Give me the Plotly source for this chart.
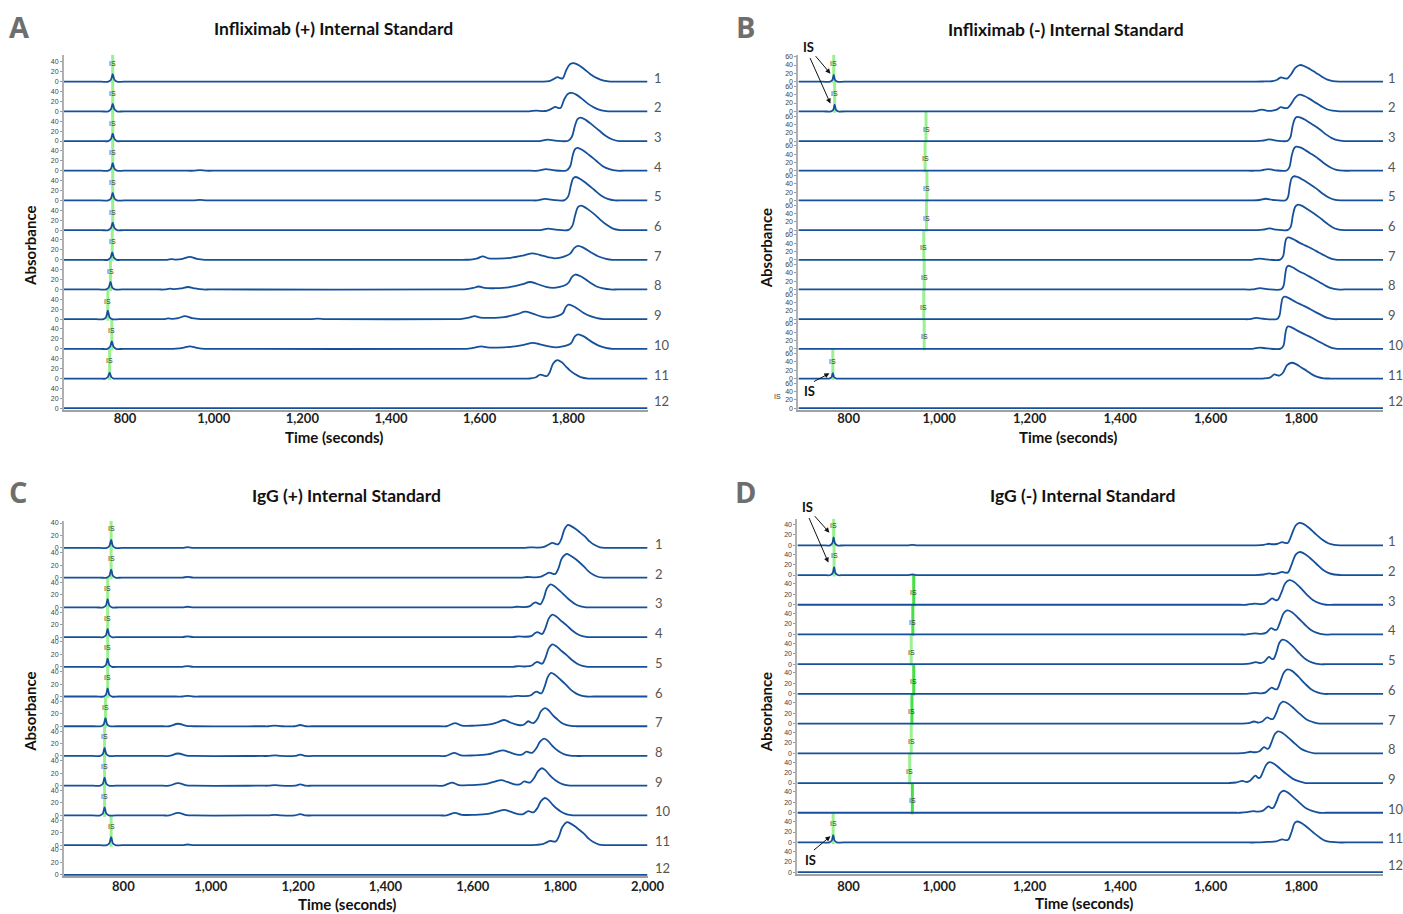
import plotly.graph_objects as go

# ------------------------------------------------------------------
# DATA  (time in seconds, absorbance)
# ------------------------------------------------------------------
ROW_NAMES = ["1", "2", "3", "4", "5", "6", "7", "8", "9", "10", "11", "12"]

# Panel A : Infliximab (+) Internal Standard
A_TRACES = [
    [(662,0),(745,0),(762,0),(768,4),(772,15),(776,4),(782,0),(798,0),(1722,0),(1740,0),(1757,1),(1767,5),(1776,9),(1783,6.5),(1788,7),(1796,24),(1804,35),(1813,37),(1822,34),(1835,26),(1850,15),(1865,7),(1880,2),(1895,0),(1912,0),(1979,0)],
    [(662,0),(745,0),(762,0),(768,4),(772,15),(776,4),(782,0),(798,0),(1695,0),(1712,0),(1728,1.5),(1742,0.5),(1753,1.5),(1762,5),(1771,9),(1778,6.5),(1783,7),(1791,24),(1799,35),(1808,37),(1817,34),(1830,26),(1845,15),(1860,7),(1875,2),(1890,0),(1907,0),(1979,0)],
    [(662,0),(745,0),(762,0),(768,4),(772,15),(776,4),(782,0),(798,0),(1718,0),(1735,0),(1754,3),(1770,1),(1800,0.5),(1808,8),(1815,30),(1821,44),(1828,47),(1840,42),(1855,32),(1870,21),(1885,10),(1900,3),(1915,0),(1932,0),(1979,0)],
    [(662,0),(745,0),(762,0),(768,4),(772,15),(776,4),(782,0),(798,0),(940,0),(955,0),(969,1),(983,0),(998,0),(1715,0),(1732,0),(1750,3),(1766,1),(1796,0.5),(1804,8),(1810,30),(1815,43),(1821,46),(1833,41),(1848,31),(1863,20),(1878,9),(1893,3),(1910,0),(1927,0),(1979,0)],
    [(662,0),(745,0),(762,0),(768,4),(772,15),(776,4),(782,0),(798,0),(940,0),(955,0),(969,1),(983,0),(998,0),(1713,0),(1730,0),(1748,3),(1764,1),(1792,0.5),(1800,8),(1806,30),(1811,44),(1817,47),(1829,42),(1844,32),(1859,21),(1874,10),(1889,3),(1905,0),(1922,0),(1979,0)],
    [(662,0),(745,0),(762,0),(768,4),(772,15),(776,4),(782,0),(798,0),(1720,0),(1737,0),(1755,3),(1771,1),(1801,0.5),(1809,8),(1816,31),(1822,46),(1829,49),(1841,44),(1856,34),(1871,22),(1886,11),(1901,3),(1917,0),(1934,0),(1979,0)],
    [(662,0),(744,0),(761,0),(767,4),(771,15),(775,4),(781,0),(797,0),(880,0),(895,0),(905,1.5),(915,0.5),(930,2),(946,6),(962,2),(980,0),(996,0),(1562,0),(1580,0.5),(1595,3),(1607,7),(1620,3),(1640,2.5),(1670,4),(1700,9),(1719,13),(1735,10),(1755,5),(1769,3),(1785,5),(1798,9),(1805,13),(1814,24),(1822,28),(1835,24),(1855,13),(1870,6),(1885,2),(1900,0),(1917,0),(1979,0)],
    [(662,0),(740,0),(757,0),(763,4),(767,15),(771,4),(777,0),(793,0),(875,0),(890,0),(901,1.5),(911,0.5),(926,2),(942,5),(958,2),(976,0),(992,0),(1552,0),(1570,0.5),(1586,3),(1598,6),(1611,3),(1635,2.5),(1665,4),(1695,10),(1714,15),(1730,11),(1750,5),(1765,3),(1781,5),(1794,9),(1801,14),(1809,26),(1816,30),(1829,26),(1849,14),(1864,6),(1879,2),(1895,0),(1912,0),(1979,0)],
    [(662,0),(734,0),(751,0),(757,4),(761,17),(765,4),(771,0),(787,0),(871,0),(886,0),(897,1.5),(907,0.5),(920,2),(935,6),(951,2),(970,0),(986,0),(1205,0),(1220,0),(1235,1),(1250,0),(1265,0),(1542,0),(1560,0.5),(1576,3),(1589,6),(1602,3),(1625,2.5),(1655,4),(1685,10),(1703,15),(1720,11),(1740,5),(1756,3),(1771,5),(1781,8),(1788,12),(1795,25),(1801,29),(1814,25),(1834,13),(1850,6),(1865,2),(1880,0),(1897,0),(1979,0)],
    [(662,0),(743,0),(760,0),(766,4),(770,15),(774,4),(780,0),(796,0),(900,0),(915,0.5),(930,2),(946,5),(962,2),(980,0),(996,0),(1557,0),(1575,0.5),(1591,3),(1604,5),(1617,3),(1640,2.5),(1670,4),(1700,8),(1720,12),(1736,9),(1756,5),(1772,3),(1788,5),(1800,8),(1807,12),(1815,25),(1822,29),(1835,25),(1855,13),(1870,6),(1885,2),(1900,0),(1917,0),(1979,0)],
    [(662,0),(739,0),(756,0),(761,3),(765,12),(769,3),(774,0),(790,0),(1695,0),(1712,0),(1726,2),(1737,8),(1745,6),(1752,5),(1758,12),(1766,30),(1775,37),(1785,33),(1795,24),(1803,17),(1815,9),(1828,3),(1845,0),(1862,0),(1979,0)],
    [(662,0),(1979,0)],
]
A_IS_TIME = [772, 772, 772, 772, 772, 772, 771, 767, 761, 770, 765]

# Panel B : Infliximab (-) Internal Standard
B_TRACES = [
    [(689,0),(742,0),(759,0),(764,4),(767,16),(770,4),(775,0),(791,0),(1683,0),(1700,0),(1720,0.5),(1735,1),(1746,4),(1755,10),(1763,8),(1770,8),(1778,18),(1787,33),(1797,40),(1808,37),(1820,30),(1833,21),(1846,12),(1858,5),(1870,1.5),(1885,0),(1902,0),(1981,0)],
    [(689,0),(744,0),(761,0),(766,4),(769,16),(772,4),(777,0),(793,0),(1678,0),(1695,0),(1713,4),(1728,1),(1737,1.5),(1746,4),(1755,10),(1763,8),(1770,8),(1778,18),(1787,33),(1796,40),(1807,37),(1819,30),(1832,21),(1845,12),(1857,5),(1869,1.5),(1884,0),(1901,0),(1981,0)],
    [(689,0),(1683,0),(1700,0),(1715,1),(1729,4),(1745,1),(1770,0.5),(1776,8),(1781,35),(1786,53),(1791,58),(1800,56),(1812,49),(1825,40),(1840,29),(1855,16),(1868,7),(1880,2),(1895,0),(1912,0),(1981,0)],
    [(689,0),(1681,0),(1698,0),(1713,1),(1728,4),(1743,1),(1768,0.5),(1774,8),(1779,35),(1784,53),(1789,58),(1798,56),(1810,49),(1823,40),(1838,29),(1853,16),(1866,7),(1878,2),(1893,0),(1910,0),(1981,0)],
    [(689,0),(1676,0),(1693,0),(1708,1),(1722,4),(1738,1),(1766,0.5),(1771,8),(1775,35),(1779,53),(1784,58),(1793,56),(1805,49),(1818,40),(1833,29),(1848,16),(1861,7),(1873,2),(1888,0),(1905,0),(1981,0)],
    [(689,0),(1684,0),(1701,0),(1716,1),(1730,4),(1746,1),(1771,0.5),(1777,8),(1782,37),(1787,56),(1792,61),(1801,59),(1813,51),(1826,42),(1841,30),(1856,17),(1869,7),(1881,2),(1896,0),(1913,0),(1981,0)],
    [(689,0),(1673,0),(1690,0),(1707,3),(1722,1),(1754,0.5),(1760,8),(1764,35),(1767,50),(1771,54),(1782,50),(1795,42),(1810,34),(1825,26),(1840,17),(1854,9),(1866,3),(1880,0),(1897,0),(1981,0)],
    [(689,0),(1675,0),(1692,0),(1709,3),(1724,1),(1756,0.5),(1761,8),(1765,37),(1768,53),(1771,57),(1782,53),(1795,44),(1810,36),(1825,27),(1840,18),(1854,9),(1866,3),(1880,0),(1897,0),(1981,0)],
    [(689,0),(1667,0),(1684,0),(1701,3),(1716,1),(1747,0.5),(1752,8),(1756,35),(1759,50),(1763,54),(1774,50),(1787,42),(1802,34),(1817,26),(1832,17),(1846,9),(1858,3),(1872,0),(1889,0),(1981,0)],
    [(689,0),(1675,0),(1692,0),(1709,3),(1724,1),(1755,0.5),(1761,8),(1765,35),(1768,50),(1771,54),(1782,50),(1795,42),(1810,34),(1825,26),(1840,17),(1854,9),(1866,3),(1880,0),(1897,0),(1981,0)],
    [(689,0),(740,0),(757,0),(762,3),(765,13),(768,3),(773,0),(789,0),(1698,0),(1715,0),(1731,2),(1741,10),(1747,8),(1752,7),(1760,14),(1769,32),(1779,38),(1790,34),(1801,26),(1812,19),(1824,10),(1836,4),(1850,0.5),(1865,0),(1882,0),(1981,0)],
    [(689,0),(1981,0)],
]
B_IS_TIME = [767, 769, 971, 969, 973, 972, 966, 967, 966, 967, 765]

# Panel C : IgG (+) Internal Standard
C_TRACES = [
    [(664,0),(745,0),(762,0),(768,3),(772,13),(776,3),(782,0),(798,0),(920,0),(935,0),(947,1.2),(960,0),(975,0),(1700,0),(1717,0),(1731,1),(1747,0.5),(1763,1.5),(1773,5),(1782,8),(1789,6.5),(1796,6),(1803,15),(1810,30),(1818,37),(1825,35),(1834,31),(1845,25),(1857,18),(1868,10),(1878,5),(1891,1),(1903,0),(1920,0),(2000,0)],
    [(664,0),(745,0),(762,0),(768,3),(772,13),(776,3),(782,0),(798,0),(920,0),(935,0),(947,1.2),(960,0),(975,0),(1693,0),(1710,0),(1724,1),(1740,0.5),(1756,1.5),(1766,5),(1775,8),(1782,6.5),(1789,6),(1796,15),(1804,31),(1815,38),(1822,36),(1831,32),(1842,26),(1854,18),(1865,10),(1875,5),(1888,1),(1900,0),(1917,0),(2000,0)],
    [(664,0),(737,0),(754,0),(760,3),(764,13),(768,3),(774,0),(790,0),(920,0),(935,0),(947,1),(960,0),(975,0),(1670,0),(1687,0),(1701,1),(1717,0.5),(1731,2),(1738,6),(1744,8),(1750,6),(1755,5),(1762,14),(1770,31),(1778,37),(1787,34),(1800,26),(1812,18),(1823,11),(1835,5),(1847,1.5),(1859,0),(1876,0),(2000,0)],
    [(664,0),(737,0),(754,0),(760,3),(764,13),(768,3),(774,0),(790,0),(920,0),(935,0),(947,1),(960,0),(975,0),(1674,0),(1691,0),(1705,1),(1721,0.5),(1735,2),(1742,6),(1748,8),(1754,6),(1759,5),(1766,14),(1774,30),(1782,36),(1791,33),(1804,25),(1816,18),(1827,11),(1839,5),(1851,1.5),(1863,0),(1880,0),(2000,0)],
    [(664,0),(737,0),(754,0),(760,3),(764,13),(768,3),(774,0),(790,0),(920,0),(935,0),(947,1),(960,0),(975,0),(1674,0),(1691,0),(1705,1),(1721,0.5),(1735,2),(1742,6),(1748,8),(1754,6),(1759,5),(1766,14),(1774,30),(1782,36),(1791,33),(1804,25),(1816,18),(1827,11),(1839,5),(1851,1.5),(1863,0),(1880,0),(2000,0)],
    [(664,0),(737,0),(754,0),(760,3),(764,13),(768,3),(774,0),(790,0),(920,0),(935,0),(947,1),(960,0),(975,0),(1672,0),(1689,0),(1703,1),(1719,0.5),(1733,2),(1740,6),(1746,8),(1752,6),(1757,5),(1764,15),(1772,32),(1779,38),(1788,35),(1801,27),(1813,19),(1824,11),(1836,5),(1848,1.5),(1860,0),(1877,0),(2000,0)],
    [(664,0),(732,0),(749,0),(755,3),(759,13),(763,3),(769,0),(785,0),(890,0),(905,0),(925,4),(945,0.5),(960,0),(1117,0),(1132,0),(1147,1),(1162,0),(1192,0),(1205,2),(1218,0),(1233,0),(1523,0),(1540,0),(1559,5),(1575,1),(1605,1),(1635,2.5),(1655,6),(1672,10),(1686,6),(1704,2),(1715,2),(1727,8),(1733,6),(1739,5),(1748,12),(1756,24),(1765,29),(1773,26),(1783,18),(1792,12),(1802,6),(1812,2.5),(1825,0.5),(1837,0),(1854,0),(2000,0)],
    [(664,0),(730,0),(747,0),(753,3),(757,13),(761,3),(767,0),(783,0),(890,0),(905,0),(925,4),(945,0.5),(960,0),(1117,0),(1132,0),(1147,1),(1162,0),(1192,0),(1205,2),(1218,0),(1233,0),(1521,0),(1538,0),(1557,5),(1573,1),(1603,1),(1633,2.5),(1652,6),(1669,9),(1683,6),(1701,2),(1712,2),(1723,7),(1730,5.5),(1736,5),(1745,12),(1754,23),(1763,28),(1771,25),(1781,17),(1790,11),(1800,6),(1810,2.5),(1823,0.5),(1835,0),(1852,0),(2000,0)],
    [(664,0),(730,0),(747,0),(753,3),(757,13),(761,3),(767,0),(783,0),(890,0),(905,0),(925,4),(945,0.5),(960,0),(1117,0),(1132,0),(1147,1),(1162,0),(1192,0),(1205,2),(1218,0),(1233,0),(1516,0),(1533,0),(1552,5),(1568,1),(1598,1),(1628,2.5),(1648,6),(1665,9),(1679,6),(1696,2),(1707,2),(1718,7),(1725,5.5),(1731,5),(1740,12),(1749,23),(1758,28),(1766,25),(1776,17),(1785,11),(1795,6),(1805,2.5),(1818,0.5),(1830,0),(1847,0),(2000,0)],
    [(664,0),(730,0),(747,0),(753,3),(757,13),(761,3),(767,0),(783,0),(890,0),(905,0),(925,4),(945,0.5),(960,0),(1117,0),(1132,0),(1147,1),(1162,0),(1192,0),(1205,2),(1218,0),(1233,0),(1523,0),(1540,0),(1559,4),(1575,1),(1605,1),(1635,2.5),(1655,6),(1672,9),(1686,6),(1704,2),(1715,2),(1727,7),(1733,5.5),(1739,5),(1748,12),(1756,23),(1765,28),(1773,25),(1783,17),(1792,11),(1802,6),(1812,2.5),(1825,0.5),(1837,0),(1854,0),(2000,0)],
    [(664,0),(745,0),(762,0),(768,3),(772,13),(776,3),(782,0),(798,0),(920,0),(935,0),(947,1),(960,0),(975,0),(1703,0),(1720,0),(1745,0.5),(1760,1.5),(1769,4.5),(1777,7),(1783,6),(1790,6),(1797,14),(1805,29),(1816,37),(1823,35),(1832,31),(1843,25),(1855,18),(1866,10),(1876,5),(1889,1),(1901,0),(1918,0),(2000,0)],
    [(664,0),(2000,0)],
]
C_IS_TIME = [772, 772, 764, 764, 764, 764, 759, 757, 757, 757, 772]

# Panel D : IgG (-) Internal Standard
D_TRACES = [
    [(687,0),(742,0),(759,0),(764,4),(767,15),(770,4),(775,0),(791,0),(915,0),(930,0),(941,1),(952,0),(967,0),(1683,0),(1700,0),(1718,1),(1729,3),(1737,2),(1748,3),(1758,6),(1765,4.5),(1771,5),(1779,20),(1788,38),(1796,43),(1805,41),(1818,33),(1833,21),(1848,10),(1860,4),(1873,1),(1888,0),(1905,0),(1981,0)],
    [(687,0),(743,0),(760,0),(765,4),(768,15),(771,4),(776,0),(792,0),(915,0),(930,0),(941,1),(952,0),(967,0),(1683,0),(1700,0),(1718,1),(1729,3),(1737,2),(1748,3),(1758,6),(1765,4.5),(1771,5),(1779,20),(1788,39),(1796,44),(1805,42),(1818,34),(1833,22),(1848,10),(1860,4),(1873,1),(1888,0),(1905,0),(1981,0)],
    [(687,0),(1663,0),(1680,0),(1697,2),(1712,1),(1722,3),(1736,12),(1743,9),(1748,9),(1756,22),(1765,41),(1774,47),(1784,44),(1798,33),(1812,20),(1826,9),(1840,3),(1855,0),(1872,0),(1981,0)],
    [(687,0),(1663,0),(1680,0),(1697,2),(1712,1),(1722,3),(1734,12),(1741,9),(1746,9),(1753,22),(1761,40),(1769,46),(1779,43),(1793,32),(1807,20),(1821,9),(1835,3),(1850,0),(1867,0),(1981,0)],
    [(687,0),(1653,0),(1670,0),(1686,1),(1700,4),(1710,2),(1718,4),(1729,14),(1735,10),(1739,10),(1746,24),(1752,41),(1759,47),(1769,44),(1783,33),(1797,20),(1811,9),(1825,3),(1840,0),(1857,0),(1981,0)],
    [(687,0),(1663,0),(1680,0),(1697,2),(1712,1),(1722,3),(1735,12),(1742,9),(1747,9),(1754,23),(1762,41),(1770,47),(1780,44),(1794,33),(1808,20),(1822,9),(1836,3),(1851,0),(1868,0),(1981,0)],
    [(687,0),(1651,0),(1668,0),(1684,1),(1696,4),(1706,2),(1714,4),(1725,12),(1732,9),(1738,9),(1746,22),(1753,37),(1760,42),(1770,39),(1784,29),(1798,18),(1812,8),(1826,3),(1840,0),(1857,0),(1981,0)],
    [(687,0),(1643,0),(1660,0),(1676,1),(1688,3),(1698,2),(1708,4),(1718,12),(1724,9),(1728,9),(1735,22),(1742,37),(1749,42),(1759,39),(1773,29),(1787,18),(1801,8),(1815,3),(1830,0),(1847,0),(1981,0)],
    [(687,0),(1623,0),(1640,0),(1656,1),(1670,4),(1680,2),(1688,5),(1699,14),(1705,10),(1709,10),(1716,22),(1723,35),(1730,40),(1740,37),(1754,27),(1768,17),(1782,8),(1796,3),(1810,0),(1827,0),(1981,0)],
    [(687,0),(1648,0),(1665,0),(1681,1),(1694,3),(1704,2),(1716,4),(1728,12),(1734,9),(1738,9),(1746,22),(1753,37),(1760,42),(1770,39),(1784,29),(1798,18),(1812,8),(1826,3),(1840,0),(1857,0),(1981,0)],
    [(687,0),(741,0),(758,0),(763,4),(766,14),(769,4),(774,0),(790,0),(1683,0),(1700,0),(1725,1),(1745,2),(1758,6),(1765,4.5),(1771,5),(1779,20),(1785,36),(1790,40),(1799,38),(1812,30),(1827,19),(1842,9),(1854,3),(1867,1),(1882,0),(1899,0),(1981,0)],
    [(687,0),(1981,0)],
]
D_IS_TIME = [767, 768, 944, 942, 938.5, 944, 940, 938.5, 935, 941, 766]

X_TICK_VALUES = [800, 1000, 1200, 1400, 1600, 1800]
X_TICK_TEXT = ["800", "1,000", "1,200", "1,400", "1,600", "1,800"]
C_X_TICK_VALUES = [800, 1000, 1200, 1400, 1600, 1800, 2000]
C_X_TICK_TEXT = ["800", "1,000", "1,200", "1,400", "1,600", "1,800", "2,000"]
Y_TICKS_SMALL = [0, 20, 40]
Y_TICKS_B = [0, 20, 40, 60]

TITLES = {
    "A": "Infliximab (+) Internal Standard",
    "B": "Infliximab (-) Internal Standard",
    "C": "IgG (+) Internal Standard",
    "D": "IgG (-) Internal Standard",
}

# ------------------------------------------------------------------
# LAYOUT / STYLE
# ------------------------------------------------------------------
W, H = 1403, 914
W_VIEW = 1387          # effective drawing width observed in the browser page
LINE_COLOR = "#15519a"
GREEN_LIGHT = "rgba(150,240,140,0.95)"
GREEN_DARK = "rgba(60,222,60,0.95)"
FONT = "Lato"
ROW_LABEL_SHIFT = [4] * 11 + [7]

PANELS = [
    dict(key="A", traces=A_TRACES, is_time=A_IS_TIME, xl=64, xr=648, xrange=[662, 1979],
         T=53, B=410, b1=80, b12=408, s=0.5, yticks=Y_TICKS_SMALL,
         xticks=X_TICK_VALUES, xtext=X_TICK_TEXT, label_px=[18] * 11, standoff=-5,
         green=[GREEN_LIGHT] * 11, num_x=652,
         title_xy=(334, 27), letter_xy=(20, 25), xtitle_xy=(334, 437), ytitle_xy=(30, 245)),
    dict(key="B", traces=B_TRACES, is_time=B_IS_TIME, xl=799, xr=1384, xrange=[689, 1981],
         T=53, B=410, b1=80, b12=408, s=0.417, yticks=Y_TICKS_B,
         xticks=X_TICK_VALUES, xtext=X_TICK_TEXT, label_px=[18, 18] + [12] * 8 + [17], standoff=-5,
         green=[GREEN_LIGHT] * 11, num_x=1387,
         title_xy=(1067, 28), letter_xy=(746, 25), xtitle_xy=(1069, 437), ytitle_xy=(766, 247)),
    dict(key="C", traces=C_TRACES, is_time=C_IS_TIME, xl=64, xr=648, xrange=[664, 2000],
         T=521, B=878, b1=548.3, b12=876.7, s=0.625, yticks=Y_TICKS_SMALL,
         xticks=C_X_TICK_VALUES, xtext=C_X_TICK_TEXT, label_px=[19] * 11, standoff=-3,
         green=[GREEN_LIGHT] * 11, num_x=653,
         title_xy=(347, 496), letter_xy=(18, 492), xtitle_xy=(347, 906), ytitle_xy=(30, 713)),
    dict(key="D", traces=D_TRACES, is_time=D_IS_TIME, xl=798, xr=1384, xrange=[687, 1981],
         T=519, B=876, b1=545.7, b12=874, s=0.525, yticks=Y_TICKS_SMALL,
         xticks=X_TICK_VALUES, xtext=X_TICK_TEXT, label_px=[20, 20] + [12] * 8 + [19], standoff=-1,
         green=[GREEN_LIGHT, GREEN_LIGHT, GREEN_DARK, GREEN_DARK, GREEN_LIGHT, GREEN_DARK,
                GREEN_DARK, GREEN_LIGHT, GREEN_LIGHT, GREEN_DARK, GREEN_LIGHT],
         num_x=1387,
         title_xy=(1083, 496), letter_xy=(746, 492), xtitle_xy=(1085, 905), ytitle_xy=(766, 713)),
]


def px(x):
    return x / W_VIEW


def py(y):
    return 1 - y / H


fig = go.Figure()
annotations = []
shapes = []
layout_axes = {}

for n, P in enumerate(PANELS, start=1):
    xa = "x" if n == 1 else f"x{n}"
    ya = "y" if n == 1 else f"y{n}"
    xkey = "xaxis" if n == 1 else f"xaxis{n}"
    ykey = "yaxis" if n == 1 else f"yaxis{n}"
    s = P["s"]
    spacing_u = (P["b12"] - P["b1"]) / 11 / s
    y_lo = -(P["B"] - P["b12"]) / s
    y_hi = (P["b12"] - P["T"]) / s
    offsets = [(11 - i) * spacing_u for i in range(12)]

    tickvals, ticktext = [], []
    for off in offsets:
        for v in P["yticks"]:
            tickvals.append(off + v)
            ticktext.append(str(v))

    layout_axes[xkey] = dict(
        domain=[px(P["xl"]), px(P["xr"])], range=P["xrange"], anchor=ya,
        showline=True, linecolor="#a0a0a0", linewidth=2, ticks="",
        tickmode="array", tickvals=P["xticks"], ticktext=P["xtext"],
        tickfont=dict(family=FONT, size=13, color="#222222", weight="bold"),
        ticklabelstandoff=P["standoff"],
        showgrid=False, zeroline=False, fixedrange=True)
    layout_axes[ykey] = dict(
        domain=[py(P["B"]), py(P["T"])], range=[y_lo, y_hi], anchor=xa,
        showline=True, linecolor="#b0b0b0", linewidth=2,
        ticks="outside", ticklen=2, tickwidth=1, tickcolor="#999999",
        tickmode="array", tickvals=tickvals, ticktext=ticktext,
        tickfont=dict(family="Liberation Sans", size=7, color="#444444"),
        showgrid=False, zeroline=False, fixedrange=True)

    # green internal-standard markers
    for i, t in enumerate(P["is_time"]):
        top = y_hi if i == 0 else offsets[i] + spacing_u
        shapes.append(dict(type="line", xref=xa, yref=ya, x0=t, x1=t,
                           y0=offsets[i] - 1.5 / s, y1=top, layer="below",
                           line=dict(color=P["green"][i], width=3)))
        annotations.append(dict(xref=xa, yref=ya, x=t, y=offsets[i], yshift=P["label_px"][i],
                                text="IS", showarrow=False,
                                font=dict(family="Liberation Sans", size=7, color="#333333")))

    # chromatograms
    for i, tr in enumerate(P["traces"]):
        xs = [p[0] for p in tr]
        ys = [p[1] + offsets[i] for p in tr]
        fig.add_trace(go.Scatter(
            x=xs, y=ys, mode="lines", xaxis=xa, yaxis=ya,
            line=dict(color=LINE_COLOR, width=1.8, shape="spline", smoothing=1.0),
            hoverinfo="skip", showlegend=False))
        annotations.append(dict(xref="paper", yref=ya, x=px(P["num_x"]), y=offsets[i],
                                xanchor="left", yanchor="middle", yshift=ROW_LABEL_SHIFT[i],
                                text=ROW_NAMES[i], showarrow=False,
                                font=dict(family=FONT, size=13, color="#555555")))

    # titles / labels
    tx, ty = P["title_xy"]
    annotations.append(dict(xref="paper", yref="paper", x=px(tx), y=py(ty), text=TITLES[P["key"]],
                            showarrow=False, xanchor="center", yanchor="middle",
                            font=dict(family=FONT, size=17.5, color="#111111", weight="bold")))
    lx, ly = P["letter_xy"]
    annotations.append(dict(xref="paper", yref="paper", x=px(lx), y=py(ly), text=P["key"],
                            showarrow=False, xanchor="center", yanchor="middle",
                            font=dict(family="Open Sans", size=29, color="#6e6e6e", weight="bold")))
    ax_, ay_ = P["xtitle_xy"]
    annotations.append(dict(xref="paper", yref="paper", x=px(ax_), y=py(ay_), text="Time (seconds)",
                            showarrow=False, xanchor="center", yanchor="middle",
                            font=dict(family=FONT, size=15, color="#111111", weight="bold")))
    bx, by = P["ytitle_xy"]
    annotations.append(dict(xref="paper", yref="paper", x=px(bx), y=py(by), text="Absorbance",
                            showarrow=False, xanchor="center", yanchor="middle", textangle=-90,
                            font=dict(family=FONT, size=15, color="#111111", weight="bold")))

# call-out arrows ("IS") in panels B and D
CALLOUT_TEXT = [(809, 45), (810, 391), (808, 507), (811, 862)]
CALLOUT_ARROWS = [  # (tail_x, tail_y, head_x, head_y) in pixels
    (815, 53, 831, 72), (810, 55, 831, 102), (813, 382, 830, 373),
    (814, 515, 830, 533), (809, 517, 829, 563), (813, 853, 831, 838),
]
for (cx, cy) in CALLOUT_TEXT:
    annotations.append(dict(xref="paper", yref="paper", x=px(cx), y=py(cy), text="IS",
                            showarrow=False, xanchor="center", yanchor="middle",
                            font=dict(family=FONT, size=13, color="#111111", weight="bold")))
for (tx_, ty_, hx, hy) in CALLOUT_ARROWS:
    annotations.append(dict(xref="paper", yref="paper", x=px(hx), y=py(hy), text="",
                            showarrow=True, ax=tx_ - hx, ay=ty_ - hy, axref="pixel", ayref="pixel",
                            arrowhead=2, arrowsize=1, arrowwidth=1, arrowcolor="#111111", standoff=0))
# stray small label in panel B
annotations.append(dict(xref="paper", yref="paper", x=px(778), y=py(396), text="IS", showarrow=False,
                        font=dict(family="Liberation Sans", size=7, color="#333333")))

fig.update_layout(
    width=W, height=H, autosize=False,
    margin=dict(l=0, r=0, t=0, b=0),
    paper_bgcolor="white", plot_bgcolor="white",
    showlegend=False, annotations=annotations, shapes=shapes,
    **layout_axes)

fig.write_html("out.html", config={"responsive": False})
